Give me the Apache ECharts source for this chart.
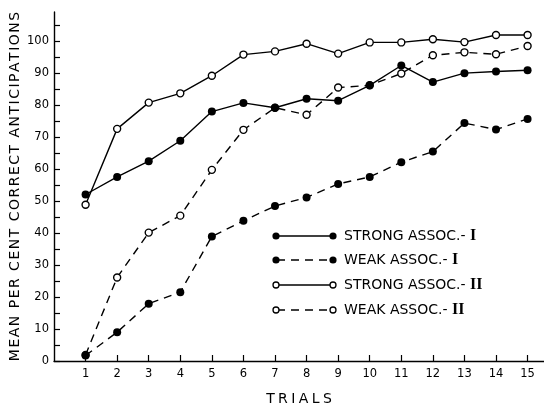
<!DOCTYPE html>
<html><head><meta charset="utf-8">
<script src="https://cdn.jsdelivr.net/npm/echarts@6/dist/echarts.min.js"></script>
<style>html,body{margin:0;padding:0;background:#fff}#c{width:544px;height:405px}</style>
</head><body><div id="c"></div>
<script>
const trials = [1,2,3,4,5,6,7,8,9,10,11,12,13,14,15];
const strongI  = [52,57.5,62.4,68.8,77.9,80.6,79.1,81.9,81.3,86.1,92.3,87.1,89.9,90.4,90.8];
const weakI    = [1.7,9.0,17.9,21.5,38.9,43.8,48.4,51.1,55.3,57.5,62.1,65.4,74.3,72.3,75.6];
const strongII = [48.8,72.5,80.7,83.6,89.1,95.7,96.7,99.1,96.0,99.5,99.5,100.5,99.6,101.8,101.8];
const weakII   = [1.9,26.1,40.1,45.4,59.7,72.2,79.1,76.9,85.4,86.1,89.8,95.5,96.4,95.8,98.4];
const yLabels  = [0,10,20,30,40,50,60,70,80,90,100];
const yTicks   = [0,5,10,15,20,25,30,35,40,45,50,55,60,65,70,75,80,85,90,95,100,105];
const legendNames = ['STRONG ASSOC.- I','WEAK ASSOC.- I','STRONG ASSOC.- II','WEAK ASSOC.- II'];

const FONT = 'DejaVu Sans';
function spaced(s){ return s.split('').map(ch => ch === ' ' ? '{sp| }' : '{l|' + ch + '}').join(''); }
function pairs(arr){ return trials.map((t,i)=>[t,arr[i]]); }

const chart = echarts.init(document.getElementById('c'), null, {renderer:'canvas'});
const lw = 1.4;
function mk(name, data, filled, dashed){
  return {
    name, type:'line', data:pairs(data),
    symbol:'circle', symbolSize: filled ? 8 : 7,
    z: filled ? 4 : 3,
    lineStyle:{color:'#000', width:lw, type: dashed ? [8,6] : 'solid'},
    itemStyle:{color: filled ? '#000' : '#fff', borderColor:'#000', borderWidth: filled ? 0 : 1.4},
    emphasis:{disabled:true}, animation:false
  };
}
const legendGraphics = [];
const rows = [236,260,285,310];
const styles = [[true,false],[true,true],[false,false],[false,true]];
rows.forEach((y,i)=>{
  const [filled,dashed] = styles[i];
  legendGraphics.push({type:'line', shape:{x1:277,y1:y,x2:332,y2:y},
    style:{stroke:'#000', lineWidth:lw, lineDash: dashed ? [8,6] : null}});
  [[276,y],[333,y]].forEach(p=>{
    legendGraphics.push({type:'circle', shape:{cx:p[0], cy:p[1], r: filled ? 3.6 : 3},
      style:{fill: filled ? '#000' : '#fff', stroke:'#000', lineWidth: filled ? 0 : 1.3}, z:10});
  });
  const parts = legendNames[i].split('- ');
  legendGraphics.push({type:'text', x:344, y:y, z:10,
    style:{text: '{a|' + parts[0] + '- }{r|' + parts[1] + '}', verticalAlign:'middle',
      rich:{a:{fontFamily:FONT, fontSize:14, fill:'#000'}, r:{fontFamily:'Liberation Serif', fontSize:16, fontWeight:'bold', fill:'#000'}}}});
});

chart.setOption({
  backgroundColor:'#fff',
  animation:false,
  grid:{left:54, right:0, top:12, bottom:44, containLabel:false, outerBoundsMode:'none'},
  xAxis:{
    type:'value', min:0, max:15.52,
    name: spaced('TRIALS'), nameLocation:'middle', nameGap:31, nameMoveOverlap:false,
    nameTextStyle:{rich:{l:{fontFamily:FONT, fontSize:14, color:'#000', padding:[0,1.7]}, sp:{fontSize:14, padding:[0,1]}}},
    axisLine:{show:true, onZero:false, lineStyle:{color:'#000', width:1.4}},
    axisTick:{show:true, inside:true, length:6, customValues:trials, lineStyle:{color:'#000', width:1.2}},
    axisLabel:{customValues:trials, color:'#000', fontFamily:FONT, fontSize:11.5, margin:7},
    splitLine:{show:false}
  },
  yAxis:{
    type:'value', min:0, max:109,
    name: spaced('MEAN PER CENT CORRECT ANTICIPATIONS'), nameLocation:'middle', nameGap:32, nameRotate:90, nameMoveOverlap:false,
    nameTextStyle:{rich:{l:{fontFamily:FONT, fontSize:14, color:'#000', padding:[0,0.75]}, sp:{fontSize:14, padding:[0,1]}}},
    axisLine:{show:true, onZero:false, lineStyle:{color:'#000', width:1.4}},
    axisTick:{show:true, inside:true, length:6, customValues:yTicks, lineStyle:{color:'#000', width:1.2}},
    axisLabel:{customValues:yLabels, color:'#000', fontFamily:FONT, fontSize:11.5, margin:5},
    splitLine:{show:false}
  },
  graphic: legendGraphics,
  series:[
    mk(legendNames[3], weakII, false, true),
    mk(legendNames[2], strongII, false, false),
    mk(legendNames[1], weakI, true, true),
    mk(legendNames[0], strongI, true, false)
  ]
});
</script></body></html>
